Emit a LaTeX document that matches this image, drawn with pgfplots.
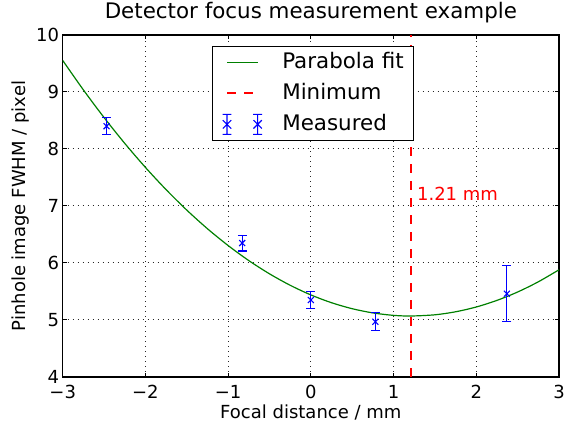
\documentclass[border=0pt]{standalone}
\usepackage{fontspec}
\setmainfont{DejaVu Sans}
\usepackage{pgfplots}
\pgfplotsset{compat=1.18}
\usepackage{pgfplotstable}
\usetikzlibrary{calc}

\pgfplotstableread{
x y
-3 9.554
-2.75 9.037
-2.5 8.552
-2.25 8.099
-2 7.677
-1.75 7.287
-1.5 6.928
-1.25 6.601
-1 6.306
-0.75 6.042
-0.5 5.810
-0.25 5.609
0 5.440
0.25 5.303
0.5 5.198
0.75 5.124
1 5.081
1.21 5.070
1.5 5.091
1.75 5.144
2 5.228
2.25 5.344
2.5 5.491
2.75 5.670
3 5.881
}\fitdata

\pgfplotstableread{
x y e
-2.47 8.40 0.145
-0.83 6.35 0.14
0.00 5.35 0.15
0.78 4.97 0.16
2.37 5.46 0.49
}\measdata

\definecolor{mplgreen}{rgb}{0,0.5,0}

\begin{document}
\begin{tikzpicture}
\begin{axis}[
  scale only axis,
  width=248.15pt, height=171pt,
  xmin=-3, xmax=3, ymin=4, ymax=10,
  xtick={-3,-2,-1,0,1,2,3},
  xticklabels={−3,−2,−1,0,1,2,3},
  ytick={4,5,6,7,8,9,10},
  yticklabels={4,5,6,7,8,9,10},
  font=\fontsize{9}{11}\selectfont,
  tick label style={font=\fontsize{9}{11}\selectfont},
  xticklabel style={inner ysep=3.8pt, inner xsep=0pt},
  yticklabel style={inner xsep=1.6pt},
  tick align=inside,
  major tick length=2.2pt,
  tick style={black, line width=0.5pt},
  axis line style={black, line width=0.6pt},
  grid=major,
  major grid style={black!85, line width=0.5pt, dash pattern=on 0.5pt off 2pt},
  title={Detector focus measurement example},
  title style={font=\fontsize{10.7}{12}\selectfont, at={(axis description cs:0.5,1.0126)}, anchor=base, inner sep=0pt},
  xlabel={Focal distance / mm},
  xlabel style={at={(axis description cs:0.5,-0.1208)}, anchor=base, inner sep=0pt},
  ylabel={Pinhole image FWHM / pixel},
  ylabel style={at={(axis description cs:-0.075,0.5)}, anchor=base, inner sep=0pt},
  legend cell align=left,
  legend style={
    at={(axis description cs:0.3008,0.9687)}, anchor=north west,
    draw=black, line width=0.5pt, fill=white,
    inner xsep=4.8pt, inner ysep=3pt,
    font=\fontsize{10.7}{12}\selectfont,
    nodes={inner sep=0pt},
    row sep=5.4pt,
    /tikz/every odd column/.append style={column sep=9.85pt},
  },
  clip=true,
]
\coordinate (bl) at (rel axis cs:0,0);
\coordinate (tr) at (rel axis cs:1,1);

\addplot[mplgreen, line width=0.6pt, smooth,
  legend image code/.code={
    \path[draw=none, fill=none] (0pt,-5pt) rectangle (15.5pt,5pt);
    \draw[draw=mplgreen, line width=0.6pt, solid] (0pt,0pt) -- (15.5pt,0pt);}]
  table[x=x,y=y] {\fitdata};
\addlegendentry{Parabola fit}

\addplot[red, line width=0.7pt, dash pattern=on 4.5pt off 4pt,
  legend image code/.code={
    \path[draw=none, fill=none] (0pt,-5pt) rectangle (15.5pt,5pt);
    \draw[draw=red, line width=0.7pt, dash pattern=on 4.5pt off 4pt] (0pt,0pt) -- (15.5pt,0pt);}]
  coordinates {(1.21,4) (1.21,10)};
\addlegendentry{Minimum}

\addplot[blue, only marks, mark=x, mark size=2.1pt, mark options={line width=0.55pt, blue},
  legend image code/.code={
    \draw[draw=blue, line width=0.55pt, solid]
      (0pt,-5pt) -- (0pt,5pt) (-2.2pt,-5pt) -- (2.2pt,-5pt) (-2.2pt,5pt) -- (2.2pt,5pt)
      (-2.1pt,-2.1pt) -- (2.1pt,2.1pt) (-2.1pt,2.1pt) -- (2.1pt,-2.1pt)
      (15.3pt,-5pt) -- (15.3pt,5pt) (13.1pt,-5pt) -- (17.5pt,-5pt) (13.1pt,5pt) -- (17.5pt,5pt)
      (13.2pt,-2.1pt) -- (17.4pt,2.1pt) (13.2pt,2.1pt) -- (17.4pt,-2.1pt);
  },
  error bars/.cd, y dir=both, y explicit,
  error bar style={line width=0.55pt, blue},
  error mark options={rotate=90, mark size=2.2pt, line width=0.55pt, blue}]
  table[x=x, y=y, y error=e] {\measdata};
\addlegendentry{Measured}

\node[red, anchor=west, inner sep=0pt, font=\fontsize{9}{11}\selectfont] at (axis cs:1.28,7.21) {1.21 mm};
\end{axis}
\pgfresetboundingbox
\path ($(bl)+(-31.35pt,-23.15pt)$) rectangle ($(tr)+(3.5pt,17.5pt)$);
\end{tikzpicture}
\end{document}
